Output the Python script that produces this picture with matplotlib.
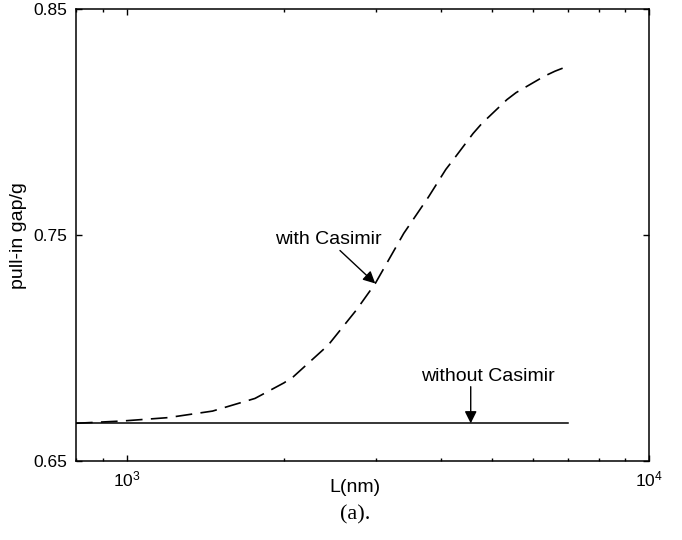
import matplotlib
matplotlib.use('Agg')
import matplotlib.pyplot as plt
from matplotlib.ticker import LogLocator, LogFormatterSciNotation, NullFormatter, FixedLocator

plt.rcParams['font.family'] = ['Liberation Sans', 'DejaVu Sans']
plt.rcParams['mathtext.fontset'] = 'custom'
plt.rcParams['mathtext.rm'] = 'Liberation Sans'

# curve (L in nm, pull-in gap / g)
L_casimir = [800, 980, 1200, 1460, 1760, 2000, 2084, 2430, 2750, 2990, 3390,
             3780, 4080, 4220, 4600, 4780, 5340, 5560, 6300, 6600, 7000]
gap_casimir = [0.6667, 0.6677, 0.6692, 0.6721, 0.6777, 0.6846, 0.6873, 0.7013,
               0.7168, 0.7286, 0.7508, 0.7669, 0.7791, 0.7835, 0.7950, 0.7994,
               0.8100, 0.8131, 0.8204, 0.8226, 0.8249]

L_plain = [800, 7000]
gap_plain = [2 / 3, 2 / 3]

y_ticks = [0.65, 0.75, 0.85]

fig = plt.figure(figsize=(6.82, 5.40), dpi=100)
ax = fig.add_axes([0.1114, 0.1463, 0.8407, 0.8365])

ax.plot(L_casimir, gap_casimir, color='black', lw=1.2, dashes=(10, 5))
ax.plot(L_plain, gap_plain, color='black', lw=1.1)

ax.set_xscale('log')
ax.set_xlim(800, 10000)
ax.set_ylim(0.65, 0.85)

ax.xaxis.set_major_locator(LogLocator(base=10))
ax.xaxis.set_major_formatter(LogFormatterSciNotation())
ax.xaxis.set_minor_locator(LogLocator(base=10, subs=range(2, 10)))
ax.xaxis.set_minor_formatter(NullFormatter())
ax.yaxis.set_major_locator(FixedLocator(y_ticks))
ax.set_yticklabels(['%.2f' % v for v in y_ticks])

ax.tick_params(which='both', direction='in', top=True, right=True, labelsize=12.5)
ax.tick_params(which='major', length=4, width=1)
ax.tick_params(which='minor', length=2.5, width=1)
ax.tick_params(axis='x', pad=6)
ax.tick_params(axis='y', pad=6)
for s in ax.spines.values():
    s.set_linewidth(1.1)

ax.set_ylabel('pull-in gap/g', fontsize=14)
ax.yaxis.set_label_coords(-0.085, 0.5)

fig.text(0.5205, 0.0963, 'L(nm)', fontsize=14, ha='center', va='center')
fig.text(0.521, 0.046, '(a).', fontsize=16, ha='center', va='center',
         family=['Liberation Serif', 'DejaVu Serif'])

arrow = dict(arrowstyle='-|>', color='black', lw=1, mutation_scale=18,
             shrinkA=0, shrinkB=0)
ax.annotate('with Casimir', xy=(2990, 0.7286), xytext=(2427, 0.7482),
            fontsize=14, ha='center', va='center', arrowprops=arrow)
ax.annotate('', xy=(4553, 2 / 3), xytext=(4553, 0.6829), arrowprops=arrow)
ax.text(4901, 0.6874, 'without Casimir', fontsize=14, ha='center', va='center')

fig.savefig('out.png', dpi=100)
